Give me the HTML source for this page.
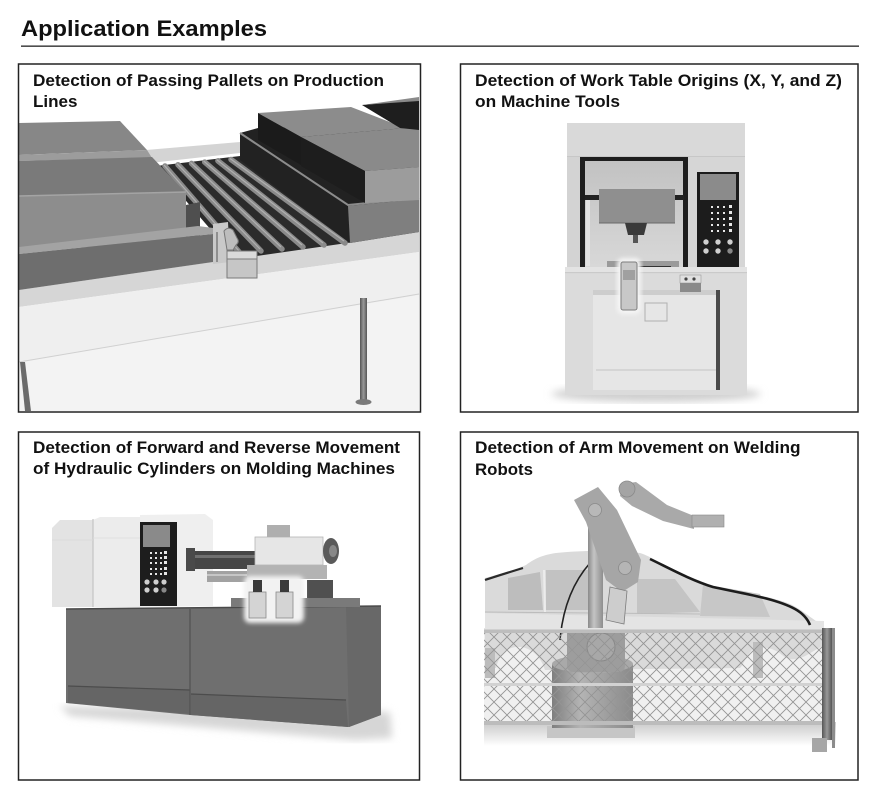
<!DOCTYPE html>
<html><head><meta charset="utf-8"><style>
html,body{margin:0;padding:0;background:#fff;}
svg{display:block;}
text{font-family:"Liberation Sans",Arial,sans-serif;font-weight:bold;fill:#111;}
</style></head><body>
<svg width="883" height="800" viewBox="0 0 883 800" xmlns="http://www.w3.org/2000/svg">
<defs>
<pattern id="mesh" width="13" height="13" patternUnits="userSpaceOnUse">
<path d="M0,0 L13,13 M13,0 L0,13" stroke="#949494" stroke-width="0.9" fill="none"/>
</pattern>
<linearGradient id="shadow2" x1="0" y1="0" x2="0" y2="1">
<stop offset="0" stop-color="#c9c9c9"/><stop offset="1" stop-color="#ffffff"/>
</linearGradient>
<linearGradient id="legg" x1="0" y1="0" x2="1" y2="0">
<stop offset="0" stop-color="#555"/><stop offset="0.5" stop-color="#999"/><stop offset="1" stop-color="#555"/>
</linearGradient>
<linearGradient id="colg" x1="0" y1="0" x2="1" y2="0">
<stop offset="0" stop-color="#8a8a8a"/><stop offset="0.4" stop-color="#c4c4c4"/><stop offset="1" stop-color="#8e8e8e"/>
</linearGradient>
<linearGradient id="cylg" x1="0" y1="0" x2="1" y2="0">
<stop offset="0" stop-color="#7e7e7e"/><stop offset="0.35" stop-color="#b4b4b4"/><stop offset="1" stop-color="#8a8a8a"/>
</linearGradient>
<linearGradient id="wing" x1="0" y1="0" x2="0" y2="1">
<stop offset="0" stop-color="#c2c2c2"/><stop offset="1" stop-color="#d8d8d8"/>
</linearGradient>
<filter id="blur2"><feGaussianBlur stdDeviation="2"/></filter>
<filter id="blur4"><feGaussianBlur stdDeviation="4"/></filter>
</defs>

<!-- Title -->
<text x="21" y="36" font-size="22.5" textLength="246" lengthAdjust="spacingAndGlyphs">Application Examples</text>
<rect x="21" y="45.5" width="838" height="1.3" fill="#222"/>

<!-- ============ BOX 1 ============ -->
<g>
<rect x="18.5" y="64" width="402" height="348" fill="#fff"/>
<polygon points="19,362 419,293 419,411 19,411" fill="#f3f3f3"/>
<polygon points="19,290 419,232 419,252 19,307" fill="#d6d6d6"/>
<polygon points="19,307 419,252 419,295 19,362" fill="#efefef"/>
<line x1="19" y1="362" x2="419" y2="294" stroke="#d0d0d0" stroke-width="1"/>
<rect x="360" y="298" width="7" height="104" fill="url(#legg)"/>
<ellipse cx="363.5" cy="402" rx="8" ry="3" fill="#7a7a7a"/>
<polygon points="20,362 25,362 31,411 25,411" fill="#6b6b6b"/>
<polygon points="146,150 240,142 240,153 150,163" fill="#d4d4d4"/>
<polygon points="156,166 240,156 354,242 236,259" fill="#2b2b2b"/>
<g stroke-linecap="round">
<line x1="165" y1="166" x2="240" y2="253" stroke="#8a8a8a" stroke-width="5.5"/>
<line x1="178" y1="164.7" x2="261" y2="251" stroke="#8a8a8a" stroke-width="5.5"/>
<line x1="191.5" y1="163.4" x2="282" y2="249" stroke="#8a8a8a" stroke-width="5.5"/>
<line x1="204.7" y1="162.1" x2="303" y2="247" stroke="#8a8a8a" stroke-width="5.5"/>
<line x1="217.9" y1="160.8" x2="324" y2="245" stroke="#8a8a8a" stroke-width="5.5"/>
<line x1="231" y1="159.5" x2="345" y2="243" stroke="#8a8a8a" stroke-width="5.5"/>
</g>
<g stroke="#b0b0b0" stroke-width="1.2">
<line x1="164" y1="165" x2="239" y2="251"/>
<line x1="177" y1="163.7" x2="260" y2="249"/>
<line x1="190.5" y1="162.4" x2="281" y2="247"/>
<line x1="203.7" y1="161.1" x2="302" y2="245"/>
<line x1="216.9" y1="159.8" x2="323" y2="243"/>
<line x1="230" y1="158.5" x2="344" y2="241"/>
</g>
<polygon points="19,123 120,121 147,150 19,155" fill="#878787"/>
<polygon points="19,155 147,150 152,158 19,161" fill="#9c9c9c"/>
<polygon points="19,161 152,157 186,193 19,196" fill="#7a7a7a"/>
<polygon points="19,196 186,192 186,246 19,248" fill="#8d8d8d"/>
<line x1="19" y1="196" x2="186" y2="192" stroke="#a4a4a4" stroke-width="1.5"/>
<polygon points="186,205 200,202 200,236 186,246" fill="#4f4f4f"/>
<polygon points="19,247 198,226 213,228 213,234 19,254" fill="#a3a3a3"/>
<polygon points="19,254 213,234 213,262 19,290" fill="#6e6e6e"/>
<polygon points="213,224 228,222 230,262 213,264" fill="#c9c9c9"/>
<line x1="217" y1="232" x2="217" y2="262" stroke="#555" stroke-width="1"/>
<polygon points="240,133 258,128 419,124 419,232 350,243 240,160" fill="#222"/>
<polygon points="348,206 419,199 419,232 350,243" fill="#7f7f7f"/>
<polyline points="240,133 348,205 419,198" fill="none" stroke="#8c8c8c" stroke-width="2"/>
<polygon points="258,113 351,107 405,128 301,137" fill="#8c8c8c"/>
<polygon points="258,113 301,137 301,165 258,140" fill="#1b1b1b"/>
<polygon points="301,137 405,128 419,128 419,167 365,171" fill="#8a8a8a"/>
<polygon points="301,137 365,171 365,203 301,166" fill="#1d1d1d"/>
<polygon points="365,171 419,167 419,200 365,203" fill="#9c9c9c"/>
<polygon points="362,105 419,100 419,130 400,128" fill="#1e1e1e"/>
<polygon points="362,105 419,97 419,101" fill="#8a8a8a"/>
<path d="M224,231 q4,-5 9,-1 l4,8 q3,4 -1,7 l-3,5 h-6 z" fill="#bdbdbd" stroke="#777" stroke-width="1"/>
<rect x="227" y="251" width="30" height="27" fill="#c6c6c6" stroke="#7a7a7a" stroke-width="1"/>
<rect x="227" y="251" width="30" height="8" fill="#dadada" stroke="#7a7a7a" stroke-width="1"/>
</g>
<rect x="18.5" y="64" width="402" height="348" fill="none" stroke="#222" stroke-width="1.5"/>
<text x="33" y="86" font-size="16.5" textLength="351" lengthAdjust="spacingAndGlyphs">Detection of Passing Pallets on Production</text>
<text x="33" y="107" font-size="16.5" textLength="44.5" lengthAdjust="spacingAndGlyphs">Lines</text>

<!-- ============ BOX 2 ============ -->
<g>
<ellipse cx="656" cy="394" rx="105" ry="8" fill="#cfcfcf" filter="url(#blur4)"/>
<rect x="567" y="123" width="178" height="34" fill="#d9d9d9"/>
<line x1="567" y1="157" x2="745" y2="157" stroke="#b5b5b5" stroke-width="1"/>
<rect x="567" y="157" width="13" height="111" fill="#d3d3d3"/>
<rect x="580" y="157" width="108" height="111" fill="#1e1e1e"/>
<rect x="585" y="161" width="98" height="106" fill="url(#wing)"/>
<rect x="586" y="196" width="4" height="70" fill="#e2e2e2"/>
<rect x="585" y="195" width="16" height="5" fill="#222"/>
<rect x="674" y="195" width="10" height="5" fill="#222"/>
<rect x="599" y="189" width="76" height="34" fill="#8f8f8f"/>
<line x1="599" y1="223" x2="675" y2="223" stroke="#6a6a6a" stroke-width="1"/>
<polygon points="625,223 647,223 644,235 628,235" fill="#3a3a3a"/>
<rect x="633" y="235" width="5" height="8" fill="#555"/>
<rect x="607" y="261" width="72" height="6" fill="#9a9a9a"/>
<rect x="637" y="266" width="34" height="7" fill="#333"/>
<rect x="688" y="157" width="57" height="111" fill="#d6d6d6"/>
<rect x="697" y="172" width="42" height="96" fill="#1c1c1c"/>
<rect x="700" y="174" width="36" height="26" fill="#8b8b8b"/>
<g fill="#e8e8e8">
<rect x="711" y="206" width="2" height="2"/><rect x="717" y="206" width="2" height="2"/><rect x="723" y="206" width="2" height="2"/><rect x="729" y="205" width="3" height="3"/>
<rect x="711" y="212" width="2" height="2"/><rect x="717" y="212" width="2" height="2"/><rect x="723" y="212" width="2" height="2"/><rect x="729" y="211" width="3" height="3"/>
<rect x="711" y="218" width="2" height="2"/><rect x="717" y="218" width="2" height="2"/><rect x="723" y="218" width="2" height="2"/><rect x="729" y="217" width="3" height="3"/>
<rect x="711" y="224" width="2" height="2"/><rect x="717" y="224" width="2" height="2"/><rect x="723" y="224" width="2" height="2"/><rect x="729" y="223" width="3" height="3"/>
<rect x="711" y="230" width="2" height="2"/><rect x="717" y="230" width="2" height="2"/><rect x="723" y="230" width="2" height="2"/><rect x="729" y="229" width="3" height="3"/>
</g>
<g fill="#cfcfcf">
<circle cx="706" cy="242" r="2.7"/><circle cx="718" cy="242" r="2.7"/><circle cx="730" cy="242" r="2.7"/>
<circle cx="706" cy="251" r="2.7"/><circle cx="718" cy="251" r="2.7"/><circle cx="730" cy="251" r="2.7" fill="#888"/>
</g>
<rect x="565" y="267" width="182" height="6" fill="#e3e3e3"/>
<line x1="565" y1="273" x2="747" y2="273" stroke="#b0b0b0" stroke-width="1"/>
<rect x="565" y="274" width="182" height="121" fill="#dbdbdb"/>
<rect x="593" y="290" width="127" height="100" fill="#e6e6e6"/>
<rect x="593" y="290" width="127" height="5" fill="#cdcdcd"/>
<rect x="716" y="290" width="4" height="100" fill="#4a4a4a"/>
<line x1="596" y1="370" x2="716" y2="370" stroke="#cfcfcf" stroke-width="1.5"/>
<rect x="645" y="303" width="22" height="18" fill="none" stroke="#b0b0b0" stroke-width="1"/>
<rect x="680" y="275" width="21" height="8" fill="#e0e0e0" stroke="#999" stroke-width="0.6"/>
<circle cx="686" cy="279" r="1.6" fill="#444"/><circle cx="694" cy="279" r="1.6" fill="#444"/>
<rect x="680" y="283" width="21" height="9" fill="#8a8a8a"/>
<rect x="617" y="258" width="24" height="56" rx="6" fill="#f5f5f5" filter="url(#blur2)"/>
<rect x="621" y="262" width="16" height="48" rx="2" fill="#c8c8c8" stroke="#7e7e7e" stroke-width="1"/>
<rect x="623" y="270" width="12" height="10" fill="#a0a0a0"/>
</g>
<rect x="460.5" y="64" width="397.5" height="348" fill="none" stroke="#222" stroke-width="1.5"/>
<text x="475" y="86" font-size="16.5" textLength="367" lengthAdjust="spacingAndGlyphs">Detection of Work Table Origins (X, Y, and Z)</text>
<text x="475" y="107" font-size="16.5" textLength="145" lengthAdjust="spacingAndGlyphs">on Machine Tools</text>

<!-- ============ BOX 3 ============ -->
<g>
<polygon points="60,706 390,712 392,738 355,740 70,716" fill="#d6d6d6" filter="url(#blur4)"/>
<polygon points="66,609 381,606 381,715 349,727 190,715 66,703" fill="#6f6f6f"/>
<polygon points="346,607 381,606 381,715 349,727" fill="#686868"/>
<polygon points="68,686 190,690 190,714 68,703" fill="#656565"/>
<polygon points="191,694 346,700 348,727 191,715" fill="#656565"/>
<line x1="68" y1="686" x2="190" y2="690" stroke="#4c4c4c" stroke-width="1.2"/>
<line x1="191" y1="694" x2="346" y2="700" stroke="#4c4c4c" stroke-width="1.2"/>
<line x1="190" y1="609" x2="190" y2="715" stroke="#525252" stroke-width="1.2"/>
<line x1="66" y1="609" x2="381" y2="606" stroke="#4a4a4a" stroke-width="1.5"/>
<rect x="231" y="598" width="129" height="9" fill="#7a7a7a"/>
<polygon points="52,528 60,520 93,520 93,607 52,607" fill="#e3e3e3"/>
<polygon points="93,520 100,517 140,517 140,607 93,607" fill="#ececec"/>
<polygon points="140,515 205,514 213,520 213,606 140,607" fill="#efefef"/>
<line x1="93" y1="519" x2="93" y2="607" stroke="#c4c4c4" stroke-width="1.2"/>
<line x1="52" y1="540" x2="93" y2="540" stroke="#d8d8d8" stroke-width="0.8"/>
<line x1="93" y1="538" x2="140" y2="538" stroke="#dddddd" stroke-width="0.8"/>
<rect x="140" y="522" width="37" height="84" fill="#1d1d1d"/>
<rect x="143" y="525" width="27" height="22" fill="#8a8a8a"/>
<g fill="#e6e6e6">
<rect x="150" y="552" width="2" height="2"/><rect x="155" y="552" width="2" height="2"/><rect x="160" y="552" width="2" height="2"/><rect x="164" y="551" width="3" height="3"/>
<rect x="150" y="557" width="2" height="2"/><rect x="155" y="557" width="2" height="2"/><rect x="160" y="557" width="2" height="2"/><rect x="164" y="556" width="3" height="3"/>
<rect x="150" y="562" width="2" height="2"/><rect x="155" y="562" width="2" height="2"/><rect x="160" y="562" width="2" height="2"/><rect x="164" y="561" width="3" height="3"/>
<rect x="150" y="568" width="2" height="2"/><rect x="155" y="568" width="2" height="2"/><rect x="160" y="568" width="2" height="2"/><rect x="164" y="567" width="3" height="3"/>
<rect x="150" y="573" width="2" height="2"/><rect x="155" y="573" width="2" height="2"/><rect x="160" y="573" width="2" height="2"/><rect x="164" y="572" width="3" height="3"/>
</g>
<g fill="#cfcfcf">
<circle cx="147" cy="582" r="2.6"/><circle cx="156" cy="582" r="2.6"/><circle cx="164" cy="582" r="2.6"/>
<circle cx="147" cy="590" r="2.6"/><circle cx="156" cy="590" r="2.6"/><circle cx="164" cy="590" r="2.6" fill="#888"/>
</g>
<rect x="186" y="548" width="9" height="23" fill="#4a4a4a"/>
<rect x="195" y="551" width="62" height="18" fill="#464646"/>
<rect x="195" y="555" width="62" height="3" fill="#707070"/>
<rect x="207" y="571" width="46" height="11" fill="#a2a2a2"/>
<rect x="207" y="574" width="46" height="2" fill="#c6c6c6"/>
<rect x="247" y="565" width="80" height="14" fill="#b3b3b3"/>
<rect x="255" y="537" width="68" height="28" fill="#e6e6e6" stroke="#b5b5b5" stroke-width="0.8"/>
<rect x="267" y="525" width="23" height="12" fill="#afafaf"/>
<ellipse cx="331" cy="551" rx="8" ry="13" fill="#5a5a5a"/>
<ellipse cx="333" cy="551" rx="4" ry="6" fill="#888"/>
<rect x="307" y="580" width="26" height="18" fill="#505050"/>
<rect x="244" y="576" width="60" height="47" rx="6" fill="#f2f2f2" filter="url(#blur2)"/>
<rect x="249" y="592" width="17" height="26" fill="#d4d4d4" stroke="#8a8a8a" stroke-width="0.8"/>
<rect x="276" y="592" width="17" height="26" fill="#d4d4d4" stroke="#8a8a8a" stroke-width="0.8"/>
<rect x="253" y="580" width="9" height="12" fill="#3a3a3a"/>
<rect x="280" y="580" width="9" height="12" fill="#3a3a3a"/>
</g>
<rect x="18.5" y="432" width="401" height="348" fill="none" stroke="#222" stroke-width="1.5"/>
<text x="33" y="453" font-size="16.5" textLength="367" lengthAdjust="spacingAndGlyphs">Detection of Forward and Reverse Movement</text>
<text x="33" y="474" font-size="16.5" textLength="362" lengthAdjust="spacingAndGlyphs">of Hydraulic Cylinders on Molding Machines</text>

<!-- ============ BOX 4 ============ -->
<g>
<rect x="484" y="722" width="352" height="24" fill="url(#shadow2)"/>
<rect x="484" y="633" width="340" height="90" fill="#f0f0f0"/>
<!-- car body -->
<path d="M485,578 C500,574 515,570 526,565 C534,559 542,555 556,553 C585,550 620,550 640,553 C650,556 665,566 683,574 L713,586 C740,592 770,596 790,604 C803,610 810,618 824,626 L824,645 L812,652 C800,660 790,662 782,655 C775,648 760,645 752,650 C746,656 744,664 740,668 L545,670 C542,660 535,650 522,647 C508,646 500,652 496,668 L485,668 Z" fill="#dadada"/>
<polygon points="485,613 824,621 824,630 485,630" fill="#e4e4e4"/>
<polygon points="508,578 540,572 543,610 508,610" fill="#bdbdbd"/>
<polygon points="546,570 590,570 590,610 546,610" fill="#c2c2c2"/>
<polygon points="637,579 675,579 700,612 637,614" fill="#c4c4c4"/>
<polygon points="703,584 760,594 770,617 700,616" fill="#c7c7c7"/>
<line x1="544" y1="570" x2="545" y2="612" stroke="#ececec" stroke-width="2"/>
<line x1="485" y1="612" x2="700" y2="614" stroke="#bcbcbc" stroke-width="1"/>
<path d="M650,559 C665,566 690,580 713,587 C740,593 775,598 795,609 C804,614 808,620 810,625" fill="none" stroke="#1c1c1c" stroke-width="2.6"/>
<path d="M485,580 C497,576 510,572 523,568" fill="none" stroke="#2a2a2a" stroke-width="2.2"/>
<rect x="753" y="642" width="10" height="36" fill="#bcbcbc"/>
<rect x="485" y="648" width="10" height="30" fill="#bcbcbc"/>
<!-- robot -->
<rect x="547" y="726" width="88" height="12" fill="#c6c6c6"/>
<rect x="552" y="664" width="81" height="64" fill="url(#cylg)"/>
<ellipse cx="592.5" cy="664" rx="40.5" ry="9" fill="#a9a9a9"/>
<rect x="567" y="628" width="58" height="44" rx="6" fill="#9d9d9d"/>
<circle cx="601" cy="647" r="14" fill="#a8a8a8" stroke="#888" stroke-width="1"/>
<path d="M590,563 C575,580 563,605 560,640" fill="none" stroke="#222" stroke-width="1.6"/>
<rect x="588" y="512" width="15" height="120" fill="url(#colg)"/>
<polygon points="574,500 598,487 617,510 641,560 638,582 622,592 606,580 586,522" fill="#a6a6a6"/>
<circle cx="595" cy="510" r="6.5" fill="#b8b8b8" stroke="#8a8a8a" stroke-width="0.8"/>
<circle cx="625" cy="568" r="6.5" fill="#b5b5b5" stroke="#8a8a8a" stroke-width="0.8"/>
<polygon points="622,484 636,482 667,505 694,516 694,529 663,521 632,506 620,496" fill="#a9a9a9"/>
<circle cx="627" cy="489" r="8" fill="#a4a4a4" stroke="#8a8a8a" stroke-width="0.8"/>
<rect x="692" y="515" width="32" height="12" fill="#b0b0b0" stroke="#888" stroke-width="0.6"/>
<polygon points="610,587 627,591 624,624 606,620" fill="#cdcdcd" stroke="#7c7c7c" stroke-width="0.8"/>
<!-- mesh -->
<rect x="484" y="633" width="338" height="90" fill="url(#mesh)"/>
<rect x="484" y="628" width="342" height="5" fill="#bdbdbd"/>
<rect x="484" y="628" width="342" height="1.5" fill="#e4e4e4"/>
<rect x="484" y="683" width="338" height="3" fill="#d2d2d2"/>
<rect x="484" y="721" width="342" height="4" fill="#bcbcbc"/>
<rect x="822" y="628" width="10" height="112" fill="url(#legg)"/>
<rect x="812" y="738" width="15" height="14" fill="#a6a6a6"/>
<rect x="832" y="628" width="3" height="120" fill="#8c8c8c"/>
</g>
<rect x="460.5" y="432" width="397.5" height="348" fill="none" stroke="#222" stroke-width="1.5"/>
<text x="475" y="453" font-size="16.5" textLength="325.5" lengthAdjust="spacingAndGlyphs">Detection of Arm Movement on Welding</text>
<text x="475" y="475" font-size="16.5" textLength="58" lengthAdjust="spacingAndGlyphs">Robots</text>
</svg>
</body></html>
